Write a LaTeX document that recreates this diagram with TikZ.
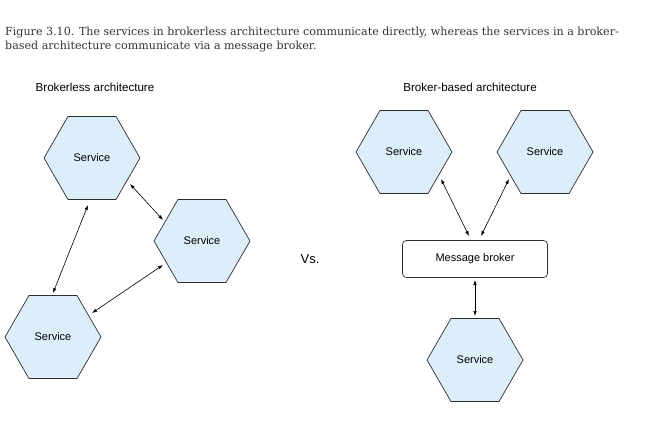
\documentclass[tikz,border=0pt]{standalone}
\usepackage{fontspec}
\setmainfont{Liberation Sans}
\newfontfamily\capfont{DejaVu Serif}
\usetikzlibrary{positioning,shapes.geometric,arrows.meta,calc}

\definecolor{hexfill}{RGB}{220,238,250}
\definecolor{edgegray}{RGB}{45,45,45}
\definecolor{capgray}{RGB}{50,50,50}

\tikzset{
    service/.style={regular polygon, regular polygon sides=6, minimum size=96pt, inner sep=0pt,
        draw=edgegray, fill=hexfill, line width=0.7pt, font=\fontsize{11}{13}\selectfont},
    broker/.style={rectangle, rounded corners=4pt, draw=edgegray, line width=0.7pt,
        minimum width=145pt, minimum height=37pt, font=\fontsize{11}{13}\selectfont},
    link/.style={{Latex[length=5pt,width=3.5pt]}-{Latex[length=5pt,width=3.5pt]}, line width=0.6pt},
    heading/.style={font=\fontsize{11.6}{13}\selectfont}
}

\begin{document}
\begin{tikzpicture}[x=1pt,y=-1pt]
\useasboundingbox (0,0) rectangle (658,439);

% caption
\node[anchor=north west, align=left, inner sep=0pt, text=capgray,
    font=\capfont\fontsize{11.1}{14}\selectfont] (caption) at (5,27)
    {Figure 3.10. The services in brokerless architecture communicate directly, whereas the services in a broker-\\based architecture communicate via a message broker.};

% brokerless
\node[heading] (left) at (95,87) {Brokerless architecture};
\node[service] (a) at (92,158) {Service};
\node[service] (b) at (202,241) {Service};
\node[service] (c) at (53,337) {Service};

\draw[link] ($(a)+(38,26)$) -- ($(b)+(-39,-21)$);
\draw[link] ($(a)+(-4,47)$) -- ($(c)+(0,-44)$);
\draw[link] ($(b)+(-39,24)$) -- ($(c)+(39,-24)$);

\node[font=\fontsize{13}{15}\selectfont] (vs) at (310,259) {Vs.};

% broker-based
\node[heading] (right) at (470,87) {Broker-based architecture};
\node[service] (d) at (404,152) {Service};
\node[service] (e) at (545,152) {Service};
\node[broker] (mb) at (475,259) {Message broker};
\node[service] (f) at (475,360) {Service};

\draw[link] ($(d)+(37,27)$) -- ($(mb)+(-6,-23)$);
\draw[link] ($(e)+(-36,27)$) -- ($(mb)+(6,-23)$);
\draw[link] ($(mb)+(0,21)$) -- ($(f)+(0,-44)$);
\end{tikzpicture}
\end{document}
